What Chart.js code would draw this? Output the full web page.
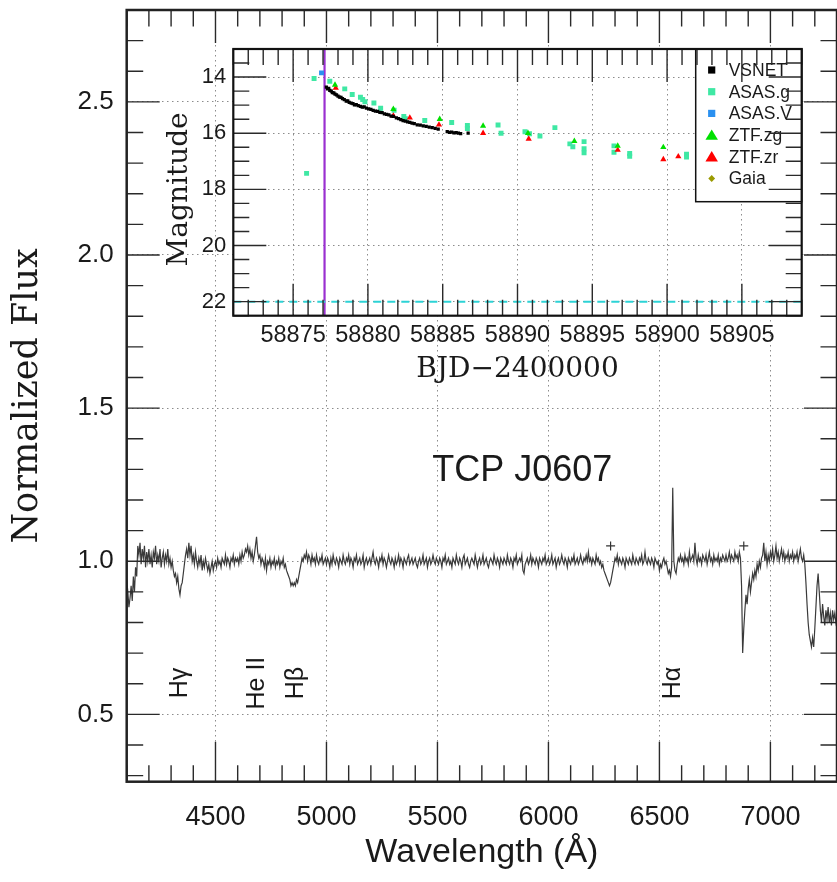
<!DOCTYPE html>
<html><head><meta charset="utf-8">
<script src="https://cdn.jsdelivr.net/npm/chart.js@4.4.1/dist/chart.umd.min.js"></script>
<style>
html,body{margin:0;padding:0;background:#fff;overflow:hidden;}
#wrap{position:relative;width:837px;height:882px;}
canvas{position:absolute;left:0;top:0;}
</style></head><body>
<div id="wrap">
<canvas id="main" width="837" height="882"></canvas>
<canvas id="inset" width="837" height="882"></canvas>
</div>
<script>
// ================= Spectrum (main panel) =================
const specStart = 4100;   // Angstrom, first sample
const specStep = 5;       // Angstrom between samples
const specFlux = [
  0.94,0.90,0.85,0.88,0.92,0.87,0.95,0.90,0.98,0.95,1.05,1.02,1.06,0.99,1.04,1.01,1.05,0.98,1.03,1.00, // 4100
  1.04,0.99,1.02,0.98,1.03,1.01,1.05,0.99,1.02,1.00,1.04,0.98,1.01,1.03,0.99,1.02,1.00,1.04,0.99,1.01, // 4200
  0.98,1.00,0.97,0.95,0.96,0.93,0.95,0.91,0.89,0.92,0.93,0.96,0.99,1.02,1.04,1.01,1.06,1.02,1.05,1.00, // 4300
  1.02,0.99,1.03,1.00,0.98,1.01,0.99,1.02,0.97,1.00,0.98,1.01,0.99,0.97,0.99,0.96,0.98,1.00,0.97,0.99, // 4400
  1.00,0.98,1.01,0.99,1.00,0.98,1.01,1.00,0.99,1.02,0.99,1.01,1.00,0.98,1.01,1.00,1.02,0.99,1.01,1.00, // 4500
  1.01,0.99,1.02,1.00,1.03,1.01,1.02,1.04,1.03,1.05,1.02,1.04,1.01,1.03,1.00,1.02,1.05,1.08,1.03,1.01, // 4600
  1.02,0.99,1.01,1.00,0.98,1.01,0.97,1.00,0.99,1.01,0.98,1.00,0.99,1.01,0.98,1.00,0.99,1.01,0.98,1.00, // 4700
  0.99,1.01,0.98,0.99,0.97,0.96,0.95,0.94,0.92,0.93,0.92,0.93,0.92,0.94,0.93,0.95,0.97,0.99,1.01,1.00, // 4800
  1.02,1.01,1.03,1.00,1.02,1.01,0.99,1.02,1.00,1.01,0.99,1.02,1.00,0.99,1.01,1.00,1.02,0.99,1.00,1.01, // 4900
  0.99,1.01,1.00,0.98,1.01,0.99,1.02,1.00,0.99,1.01,1.00,0.98,1.01,1.00,0.99,1.02,1.00,0.99,1.01,1.00, // 5000
  1.02,0.99,1.01,1.00,0.98,1.01,1.00,1.02,0.99,1.00,1.01,0.99,1.00,1.02,0.98,1.00,1.01,0.99,1.00,1.01, // 5100
  0.99,1.01,1.03,1.00,0.99,1.01,1.00,0.98,1.01,1.00,1.02,0.99,1.01,1.00,0.98,1.00,1.02,1.00,0.99,1.01, // 5200
  1.00,0.98,1.01,0.99,1.00,1.02,0.99,1.01,1.00,0.98,1.01,1.00,0.99,1.01,1.02,0.99,1.00,1.01,0.99,1.00, // 5300
  1.01,0.99,0.98,1.00,1.01,0.99,1.00,1.02,0.99,1.00,1.01,0.98,1.00,1.01,0.99,1.00,1.02,1.00,0.99,1.01, // 5400
  1.00,0.99,1.01,1.00,0.98,1.01,1.00,1.02,0.99,1.00,1.01,0.99,1.00,0.98,1.01,1.00,0.99,1.02,1.00,0.99, // 5500
  1.01,1.00,0.98,1.01,1.02,0.99,1.00,1.01,0.99,0.98,1.00,1.01,1.00,0.99,1.02,1.00,0.98,1.00,1.01,0.99, // 5600
  1.00,1.02,0.99,1.00,1.01,0.99,0.98,1.00,1.01,1.00,0.99,1.02,1.00,0.99,1.01,1.00,0.98,1.01,1.00,0.99, // 5700
  1.01,1.00,0.99,1.02,1.00,0.99,1.01,1.00,0.98,1.01,1.00,1.02,0.99,1.00,1.01,1.00,1.02,0.97,0.96,0.99, // 5800
  1.00,1.01,0.99,1.00,1.02,0.99,1.01,1.00,0.99,1.01,1.00,0.98,1.01,1.00,0.99,1.01,1.00,1.02,0.99,1.00, // 5900
  1.01,0.99,1.00,1.02,0.99,1.00,1.01,0.98,1.00,1.01,0.99,1.00,1.02,1.00,0.99,1.01,1.00,0.98,1.01,1.00, // 6000
  0.99,1.01,1.00,1.02,0.99,1.00,1.01,0.99,1.00,1.02,1.00,0.99,1.01,1.00,1.02,1.00,1.03,1.00,1.01,0.99, // 6100
  1.01,1.00,0.99,1.02,1.00,1.01,0.99,1.00,0.98,0.99,0.97,0.96,0.95,0.94,0.93,0.92,0.93,0.95,0.97,0.99, // 6200
  1.01,1.00,1.02,0.99,1.01,1.00,0.99,1.01,1.00,0.98,1.01,1.00,0.99,1.01,1.00,0.99,1.02,1.00,0.99,1.01, // 6300
  1.00,0.99,1.01,1.00,1.02,0.99,1.00,1.03,1.00,0.99,1.01,1.00,0.99,1.01,1.00,0.98,1.01,1.00,0.99,1.00, // 6400
  0.97,0.99,0.98,1.00,1.01,0.99,1.00,0.98,0.96,0.97,0.95,0.98,1.24,1.00,0.97,0.96,0.99,1.01,1.00,1.02, // 6500
  1.00,1.01,0.99,1.02,1.00,1.01,0.99,1.03,1.00,1.01,1.02,1.00,1.06,1.01,0.99,1.02,1.00,1.01,0.99,1.02, // 6600
  1.01,1.00,1.02,0.99,1.01,1.03,1.00,1.01,0.99,1.02,1.00,1.01,1.00,1.02,0.99,1.01,1.00,1.02,1.01,1.00, // 6700
  1.02,1.00,1.01,1.03,1.00,1.02,1.01,1.00,1.03,1.01,1.02,1.00,1.03,1.01,0.92,0.70,0.78,0.84,0.89,0.86, // 6800
  0.91,0.94,0.90,0.93,0.96,0.94,0.97,0.95,0.99,0.97,1.00,0.98,1.01,1.02,1.06,1.00,1.03,0.99,1.02,1.00, // 6900
  1.03,1.01,1.04,1.00,1.02,1.05,1.01,1.03,1.00,1.02,1.04,1.01,1.03,1.00,1.02,1.01,1.03,1.00,1.02,1.01, // 7000
  1.03,1.00,1.02,1.01,1.03,1.00,1.02,1.04,1.01,1.00,1.02,0.99,0.93,0.86,0.80,0.76,0.74,0.72,0.75,0.72, // 7100
  0.78,0.85,0.92,0.96,0.90,0.84,0.80,0.86,0.82,0.79,0.84,0.81,0.85,0.80,0.83,0.79,0.84,0.81,0.83,0.80, // 7200
  0.82                                                                                                 // 7300
];
const crossWave = [6280, 6880];
const crossFlux = [1.05, 1.05];
const lineNames = ['Hγ', 'He II', 'Hβ', 'Hα'];
const lineWaves = [4340, 4686, 4861, 6563];
const objectName = 'TCP J0607';
const specXTicks = [4500, 5000, 5500, 6000, 6500, 7000];
const specYTicks = [0.5, 1.0, 1.5, 2.0, 2.5];

// ================= Light curve (inset) =================
const vsnetT = [58877.22,58877.3,58877.38,58877.45,58877.55,58877.62,58877.72,58877.8,58877.9,58878.0,
  58878.1,58878.2,58878.3,58878.42,58878.55,58878.65,58878.75,58878.88,58879.0,58879.1,
  58879.22,58879.35,58879.5,58879.62,58879.75,58879.9,58880.05,58880.2,58880.35,58880.5,
  58880.65,58880.8,58880.95,58881.1,58881.25,58881.4,58881.55,58881.7,58881.9,58882.05,
  58882.2,58882.35,58882.5,58882.65,58882.8,58882.95,58883.1,58883.3,58883.5,58883.7,
  58883.9,58884.1,58884.3,58884.5,58884.7,58885.3,58885.45,58885.6,58885.75,58885.9,
  58886.05,58886.2,58886.7];
const vsnetM = [14.36,14.42,14.40,14.47,14.50,14.55,14.56,14.61,14.63,14.68,
  14.71,14.72,14.77,14.80,14.86,14.85,14.90,14.93,14.95,14.99,
  14.98,15.02,15.04,15.07,15.06,15.11,15.13,15.15,15.19,15.21,
  15.22,15.26,15.27,15.31,15.33,15.35,15.39,15.40,15.45,15.48,
  15.52,15.55,15.57,15.60,15.61,15.64,15.66,15.70,15.71,15.74,
  15.76,15.78,15.80,15.83,15.85,15.94,15.97,15.96,15.99,15.98,
  16.00,16.01,16.00];
const asasgT = [58875.9,58876.4,58877.45,58878.45,58878.95,58879.5,58879.65,58879.8,58880.4,58880.85,
  58881.75,58882.4,58882.5,58883.8,58885.6,58886.65,58886.65,58888.7,58888.9,58890.5,
  58890.8,58891.5,58892.5,58893.5,58893.7,58894.45,58894.45,58894.45,58896.45,58896.45,
  58897.5,58897.5,58901.3,58901.3];
const asasgM = [17.43,14.05,14.15,14.42,14.62,14.72,14.80,14.88,14.92,15.11,
  15.18,15.40,15.48,15.55,15.62,15.72,15.83,15.71,16.00,15.95,
  16.02,16.10,15.80,16.38,16.48,16.30,16.55,16.70,16.45,16.68,
  16.72,16.82,16.75,16.85];
const asasVT = [58876.9];
const asasVM = [13.85];
const ztfgT = [58877.8,58881.7,58884.8,58887.7,58890.7,58893.8,58896.7,58899.75];
const ztfgM = [14.28,15.14,15.50,15.74,16.00,16.28,16.45,16.50];
const ztfrT = [58877.85,58881.7,58882.8,58884.75,58887.7,58890.75,58896.7,58899.75,58900.75];
const ztfrM = [14.39,15.38,15.45,15.70,16.00,16.20,16.60,16.93,16.83];
const gaiaT = [];
const gaiaM = [];
const spectrumEpoch = 58877.1;
const limitMag = 22.0;
const lcXTicks = [58875, 58880, 58885, 58890, 58895, 58900, 58905];
const lcYTicks = [14, 16, 18, 20, 22];
const legendNames = ['VSNET', 'ASAS.g', 'ASAS.V', 'ZTF.zg', 'ZTF.zr', 'Gaia'];

// ================= helpers =================
const pts = (xs, ys) => xs.map((x, i) => ({x: x, y: ys[i]}));
const SANS = '"Liberation Sans", Arial, Helvetica, sans-serif';
const SERIF = '"DejaVu Serif", "Liberation Serif", serif';
const noPad = ax => { ax.paddingTop = 0; ax.paddingBottom = 0; ax.paddingLeft = 0; ax.paddingRight = 0; };

const frameTicks = {
  id: 'frameTicks',
  afterDraw(chart, args, o) {
    const ctx = chart.ctx, a = chart.chartArea;
    const xs = chart.scales.x, ys = chart.scales.y;
    ctx.save();
    ctx.strokeStyle = o.color;
    ctx.lineWidth = o.tickWidth;
    ctx.beginPath();
    const isMaj = (v, m) => Math.abs(v / m - Math.round(v / m)) < 1e-6;
    let i0 = Math.ceil(Math.min(xs.min, xs.max) / o.xMinor - 1e-9), i1 = Math.floor(Math.max(xs.min, xs.max) / o.xMinor + 1e-9);
    for (let i = i0; i <= i1; i++) {
      const v = i * o.xMinor, mj = isMaj(v, o.xMajor);
      const p = xs.getPixelForValue(v);
      ctx.moveTo(p, a.bottom); ctx.lineTo(p, a.bottom - (mj ? o.majorBottom : o.minorLen));
      ctx.moveTo(p, a.top); ctx.lineTo(p, a.top + (mj ? o.majorLen : o.minorLen));
    }
    i0 = Math.ceil(Math.min(ys.min, ys.max) / o.yMinor - 1e-9); i1 = Math.floor(Math.max(ys.min, ys.max) / o.yMinor + 1e-9);
    for (let i = i0; i <= i1; i++) {
      const v = i * o.yMinor, mj = isMaj(v, o.yMajor);
      const p = ys.getPixelForValue(v);
      ctx.moveTo(a.left, p); ctx.lineTo(a.left + (mj ? o.majorLen : o.minorLen), p);
      ctx.moveTo(a.right, p); ctx.lineTo(a.right - (mj ? o.majorLen : o.minorLen), p);
    }
    ctx.stroke();
    ctx.lineWidth = o.frameWidth;
    ctx.strokeStyle = o.frameColor;
    ctx.strokeRect(a.left, a.top, a.right - a.left, a.bottom - a.top);
    ctx.restore();
  }
};

const specText = {
  id: 'specText',
  afterDatasetsDraw(chart) {
    const ctx = chart.ctx, x = chart.scales.x, y = chart.scales.y;
    ctx.save();
    ctx.fillStyle = '#1a1a1a';
    ctx.font = '36px ' + SANS;
    ctx.textAlign = 'center';
    ctx.textBaseline = 'middle';
    ctx.fillText(objectName, x.getPixelForValue(5882), y.getPixelForValue(1.293));
    ctx.font = '25px ' + SANS;
    lineNames.forEach((n, i) => {
      ctx.save();
      ctx.translate(x.getPixelForValue(lineWaves[i]), y.getPixelForValue(0.602));
      ctx.rotate(-Math.PI / 2);
      ctx.fillText(n, 0, 0);
      ctx.restore();
    });
    ctx.restore();
  }
};

const whiteArea = {
  id: 'whiteArea',
  beforeDraw(chart) {
    const ctx = chart.ctx, a = chart.chartArea;
    ctx.save();
    ctx.fillStyle = '#ffffff';
    ctx.fillRect(a.left, a.top, a.right - a.left, a.bottom - a.top);
    ctx.restore();
  }
};

const insetYTitle = {
  id: 'insetYTitle',
  afterDraw(chart) {
    const ctx = chart.ctx, a = chart.chartArea, y = chart.scales.y;
    ctx.save();
    ctx.fillStyle = '#1a1a1a';
    ctx.font = '28px ' + SERIF;
    ctx.textAlign = 'center';
    ctx.textBaseline = 'middle';
    ctx.translate(a.left - 54, y.getPixelForValue(18));
    ctx.rotate(-Math.PI / 2);
    ctx.fillText('Magnitude', 0, 0);
    ctx.restore();
  }
};

function drawMarker(ctx, style, color, x, y, r) {
  ctx.fillStyle = color;
  ctx.beginPath();
  if (style === 'triangle') {
    ctx.moveTo(x, y - r * 1.1); ctx.lineTo(x + r * 1.2, y + r * 0.9); ctx.lineTo(x - r * 1.2, y + r * 0.9); ctx.closePath();
  } else if (style === 'rectRot') {
    ctx.moveTo(x, y - r); ctx.lineTo(x + r, y); ctx.lineTo(x, y + r); ctx.lineTo(x - r, y); ctx.closePath();
  } else {
    ctx.rect(x - r, y - r, 2 * r, 2 * r);
  }
  ctx.fill();
}

const insetLegend = {
  id: 'insetLegend',
  afterDatasetsDraw(chart) {
    const ctx = chart.ctx, a = chart.chartArea;
    const w = 106, h = 152.7;
    const x0 = a.right - w, y0 = a.top;
    ctx.save();
    ctx.fillStyle = '#fff';
    ctx.fillRect(x0, y0, w, h);
    ctx.strokeStyle = '#111';
    ctx.lineWidth = 1.5;
    ctx.strokeRect(x0, y0, w, h);
    ctx.font = '17.5px ' + SANS;
    ctx.textAlign = 'left';
    ctx.textBaseline = 'middle';
    legendNames.forEach((name, i) => {
      const ds = chart.data.datasets.find(d => d.label === name);
      const yy = y0 + 21 + i * 21.7;
      const st = ds.pointStyle;
      drawMarker(ctx, st, ds.backgroundColor, x0 + 16, yy, st === 'triangle' ? 5.2 : (st === 'rectRot' ? 3.4 : 3.6));
      ctx.fillStyle = '#1a1a1a';
      ctx.fillText(name, x0 + 33, yy + 1);
    });
    ctx.restore();
  }
};

// ================= Main spectrum chart =================
const specData = specFlux.map((f, i) => ({x: specStart + i * specStep, y: f}));

new Chart(document.getElementById('main'), {
  type: 'scatter',
  data: {
    datasets: [
      {label: 'spectrum', data: specData, showLine: true, borderColor: '#3a3a3a', borderWidth: 1.2,
       pointRadius: 0, tension: 0},
      {label: 'marks', data: pts(crossWave, crossFlux), pointStyle: 'cross', pointRadius: 4.5,
       borderColor: '#333', borderWidth: 1.2, backgroundColor: '#333'}
    ]
  },
  options: {
    responsive: false, animation: false, devicePixelRatio: 1,
    layout: {autoPadding: false, padding: {left: 0, top: 10, right: 0, bottom: 0}},
    plugins: {
      legend: {display: false}, tooltip: {enabled: false},
      frameTicks: {color: '#2a2a2a', tickWidth: 1.4, frameColor: '#222', frameWidth: 2.5,
        xMinor: 100, xMajor: 500, yMinor: 0.1, yMajor: 0.5, majorLen: 33, majorBottom: 40, minorLen: 16.5}
    },
    scales: {
      x: {
        type: 'linear', min: 4100, max: 7300,
        afterBuildTicks: ax => { ax.ticks = specXTicks.map(v => ({value: v})); },
        afterFit: ax => { ax.height = 100.3; noPad(ax); },
        grid: {color: '#8c8c8c', lineWidth: 1, drawTicks: false},
        border: {display: false, dash: [1.5, 3.5]},
        ticks: {color: '#1a1a1a', font: {family: SANS, size: 27}, padding: 20, maxRotation: 0,
                autoSkip: false, callback: v => String(v)},
        title: {display: true, text: 'Wavelength (Å)', color: '#1a1a1a',
                font: {family: SANS, size: 34}, padding: {top: 0, bottom: 9}}
      },
      y: {
        type: 'linear', min: 0.28, max: 2.8,
        afterBuildTicks: ax => { ax.ticks = specYTicks.map(v => ({value: v})); },
        afterFit: ax => { ax.width = 126.7; noPad(ax); },
        grid: {color: '#8c8c8c', lineWidth: 1, drawTicks: false},
        border: {display: false, dash: [1.5, 3.5]},
        ticks: {color: '#1a1a1a', font: {family: SANS, size: 26}, padding: 13,
                callback: v => Number(v).toFixed(1)},
        title: {display: true, text: 'Normalized Flux', color: '#1a1a1a',
                font: {family: SERIF, size: 35}, padding: {top: 7, bottom: 0}}
      }
    }
  },
  plugins: [frameTicks, specText]
});

// ================= Inset light curve =================
new Chart(document.getElementById('inset'), {
  type: 'scatter',
  data: {
    datasets: [
      {label: 'VSNET', data: pts(vsnetT, vsnetM), pointStyle: 'rect', pointRadius: 2.3,
       backgroundColor: '#000000', borderWidth: 0, order: 1},
      {label: 'ASAS.g', data: pts(asasgT, asasgM), pointStyle: 'rect', pointRadius: 3.5,
       backgroundColor: '#3FE8A4', borderWidth: 0, order: 4},
      {label: 'ASAS.V', data: pts(asasVT, asasVM), pointStyle: 'rect', pointRadius: 3.5,
       backgroundColor: '#2A90F0', borderWidth: 0, order: 3},
      {label: 'ZTF.zg', data: pts(ztfgT, ztfgM), pointStyle: 'triangle', pointRadius: 3.6,
       backgroundColor: '#00E000', borderWidth: 0, order: 2},
      {label: 'ZTF.zr', data: pts(ztfrT, ztfrM), pointStyle: 'triangle', pointRadius: 3.6,
       backgroundColor: '#FF0000', borderWidth: 0, order: 2},
      {label: 'Gaia', data: pts(gaiaT, gaiaM), pointStyle: 'rectRot', pointRadius: 3.6,
       backgroundColor: '#9A9A00', borderWidth: 0, order: 2},
      {label: 'epoch', data: [{x: spectrumEpoch, y: 13}, {x: spectrumEpoch, y: 22.5}], showLine: true,
       borderColor: '#9A30D0', borderWidth: 2.2, pointRadius: 0, order: 6},
      {label: 'limit', data: [{x: 58871, y: limitMag}, {x: 58909, y: limitMag}], showLine: true,
       borderColor: '#2CD3D6', borderWidth: 2, borderDash: [8, 6], pointRadius: 0, order: 5}
    ]
  },
  options: {
    responsive: false, animation: false, devicePixelRatio: 1,
    layout: {autoPadding: false, padding: {left: 150, top: 49, right: 35.3, bottom: 486.3}},
    plugins: {
      legend: {display: false}, tooltip: {enabled: false},
      frameTicks: {color: '#2a2a2a', tickWidth: 1.4, frameColor: '#111', frameWidth: 2.2,
        xMinor: 1, xMajor: 5, yMinor: 0.5, yMajor: 2, majorLen: 33, majorBottom: 32, minorLen: 16}
    },
    scales: {
      x: {
        type: 'linear', min: 58871, max: 58909,
        afterBuildTicks: ax => { ax.ticks = lcXTicks.map(v => ({value: v})); },
        afterFit: ax => { ax.height = 80; noPad(ax); },
        grid: {color: '#8c8c8c', lineWidth: 1, drawTicks: false},
        border: {display: false, dash: [1.5, 3.5]},
        ticks: {color: '#1a1a1a', font: {family: SANS, size: 23.5}, padding: 5.5, maxRotation: 0,
                autoSkip: false, callback: v => String(v)},
        title: {display: true, text: 'BJD−2400000', color: '#1a1a1a',
                font: {family: SERIF, size: 28}, padding: {top: 0, bottom: 9}}
      },
      y: {
        type: 'linear', min: 13, max: 22.5, reverse: true,
        afterBuildTicks: ax => { ax.ticks = lcYTicks.map(v => ({value: v})); },
        afterFit: ax => { ax.width = 83.3; noPad(ax); },
        grid: {color: '#8c8c8c', lineWidth: 1, drawTicks: false},
        border: {display: false, dash: [1.5, 3.5]},
        ticks: {color: '#1a1a1a', font: {family: SANS, size: 22}, padding: 7,
                callback: v => String(v)},
        title: {display: false}
      }
    }
  },
  plugins: [whiteArea, frameTicks, insetLegend, insetYTitle]
});
</script>
</body></html>
